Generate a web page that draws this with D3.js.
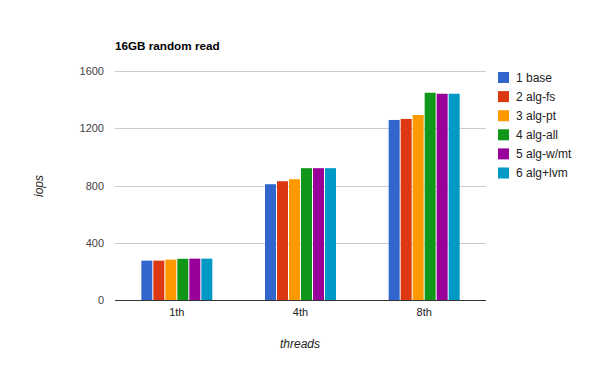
<!DOCTYPE html>
<html>
<head>
<meta charset="utf-8">
<script src="https://cdnjs.cloudflare.com/ajax/libs/d3/7.8.5/d3.min.js"></script>
<style>
  body { margin: 0; background: #fff; }
  text { font-family: Arial, "Liberation Sans", sans-serif; }
</style>
</head>
<body>
<div id="main"></div>
<script>
const categories = ["1th", "4th", "8th"];
const seriesNames = ["1 base", "2 alg-fs", "3 alg-pt", "4 alg-all", "5 alg-w/mt", "6 alg+lvm"];
const seriesColors = ["#3366cc", "#dc3912", "#ff9900", "#109618", "#990099", "#0099c6"];
// one array per series, values for 1th / 4th / 8th
const base   = [275, 809, 1258];
const algFs  = [275, 830, 1265];
const algPt  = [282, 844, 1293];
const algAll = [288, 921, 1448];
const algWmt = [289, 921, 1441];
const algLvm = [289, 921, 1441];
const yTicks = [0, 400, 800, 1200, 1600];

const values = [base, algFs, algPt, algAll, algWmt, algLvm];
const width = 600, height = 371;
const plotLeft = 115, plotRight = 486, plotTop = 71, plotBottom = 300;

const svg = d3.select('#main')
  .append('svg')
  .attr('width', width)
  .attr('height', height);

const y = d3.scaleLinear().domain([0, 1600]).range([plotBottom, plotTop]);
const x0 = d3.scaleBand().domain(categories).range([plotLeft, plotRight])
  .paddingInner(0.426).paddingOuter(0.213);
const x1 = d3.scaleBand().domain(d3.range(seriesNames.length)).range([0, x0.bandwidth()])
  .paddingInner(1 / 12).paddingOuter(0);

// gridlines
svg.append('g')
  .selectAll('line')
  .data(yTicks.slice(1))
  .enter().append('line')
  .attr('x1', plotLeft).attr('x2', plotRight)
  .attr('y1', d => Math.round(y(d)) + 0.5)
  .attr('y2', d => Math.round(y(d)) + 0.5)
  .attr('stroke', '#cccccc');

svg.append('g')
  .selectAll('text')
  .data(yTicks)
  .enter().append('text')
  .attr('x', 104)
  .attr('y', d => y(d) + 4)
  .attr('text-anchor', 'end')
  .attr('font-size', 11)
  .attr('fill', '#444')
  .text(d => d);

// bars
const group = svg.selectAll('g.grp')
  .data(categories)
  .enter().append('g')
  .attr('class', 'grp')
  .attr('transform', d => `translate(${x0(d)},0)`);

group.selectAll('rect')
  .data((d, ci) => values.map((s, si) => ({si: si, v: s[ci]})))
  .enter().append('rect')
  .attr('x', d => x1(d.si))
  .attr('width', x1.bandwidth())
  .attr('y', d => y(d.v))
  .attr('height', d => y(0) - y(d.v))
  .attr('fill', d => seriesColors[d.si]);

// baseline
svg.append('line')
  .attr('x1', plotLeft).attr('x2', plotRight)
  .attr('y1', 300.5).attr('y2', 300.5)
  .attr('stroke', '#333333');

svg.append('g')
  .selectAll('text')
  .data(categories)
  .enter().append('text')
  .attr('x', d => x0(d) + x0.bandwidth() / 2)
  .attr('y', 316)
  .attr('text-anchor', 'middle')
  .attr('font-size', 11)
  .attr('fill', '#222')
  .text(d => d);

// titles
svg.append('text')
  .attr('x', plotLeft).attr('y', 50)
  .attr('font-size', 11.7)
  .attr('font-weight', 'bold')
  .attr('fill', '#000')
  .text('16GB random read');

svg.append('text')
  .attr('x', 300).attr('y', 348)
  .attr('text-anchor', 'middle')
  .attr('font-size', 12)
  .attr('font-style', 'italic')
  .attr('fill', '#222')
  .text('threads');

svg.append('text')
  .attr('transform', 'translate(43,186) rotate(-90)')
  .attr('text-anchor', 'middle')
  .attr('font-size', 12)
  .attr('font-style', 'italic')
  .attr('fill', '#222')
  .text('iops');

// legend
const legend = svg.append('g')
  .selectAll('g')
  .data(seriesNames)
  .enter().append('g')
  .attr('transform', (d, i) => `translate(498,${72 + i * 19.1})`);

legend.append('rect')
  .attr('width', 11).attr('height', 11)
  .attr('fill', (d, i) => seriesColors[i]);

legend.append('text')
  .attr('x', 18).attr('y', 9.5)
  .attr('font-size', 12)
  .attr('fill', '#222')
  .text(d => d);
</script>
</body>
</html>
